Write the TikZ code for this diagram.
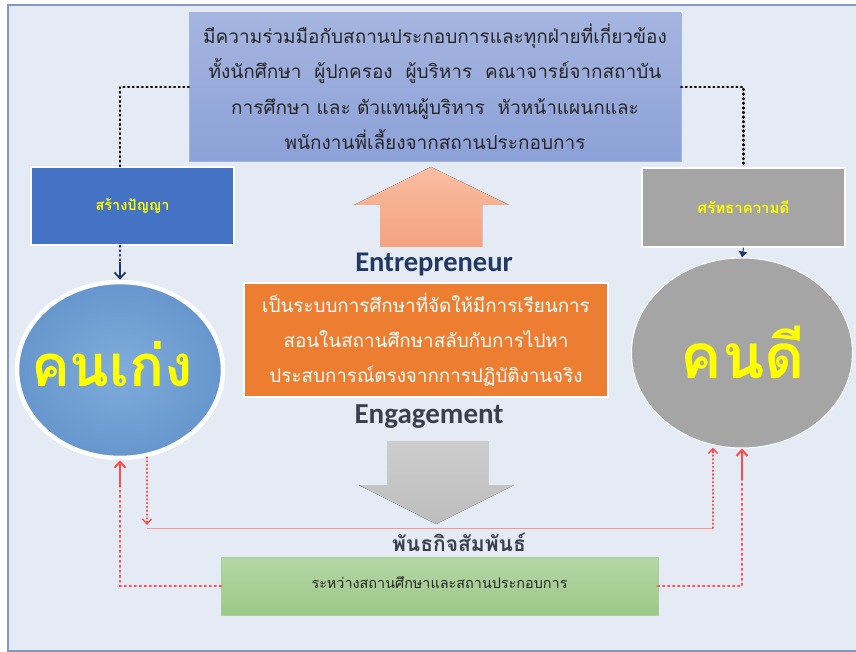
\documentclass[tikz,border=0pt]{standalone}
\usepackage{fontspec}
\setmainfont{Carlito}
\newfontfamily\thai[Script=Thai]{Loma}
\usetikzlibrary{arrows.meta,shapes.geometric,calc}
\definecolor{bgc}{HTML}{E5EBF5}
\definecolor{framec}{HTML}{8597C2}
\definecolor{topA}{HTML}{A6B5E0}
\definecolor{topB}{HTML}{8CA1D8}
\definecolor{blueb}{HTML}{4472C4}
\definecolor{grayb}{HTML}{A5A5A5}
\definecolor{orangeb}{HTML}{ED7D31}
\definecolor{greenA}{HTML}{B5D6A6}
\definecolor{greenB}{HTML}{9CC887}
\definecolor{navy}{HTML}{1F3864}
\definecolor{darkt}{HTML}{262626}
\definecolor{engt}{HTML}{3A3F4E}
\definecolor{yel}{HTML}{FFFF00}
\definecolor{redl}{HTML}{FF4B4B}
\definecolor{salA}{HTML}{F8BDA2}
\definecolor{salB}{HTML}{F4A27F}
\definecolor{grA}{HTML}{CDCDCD}
\definecolor{grB}{HTML}{BDBDBD}
\definecolor{circA}{HTML}{80ACDC}
\definecolor{circB}{HTML}{6696CC}
\tikzset{
  boxbase/.style={rectangle, inner sep=0pt, align=center},
  topbox/.style={boxbase, draw=topB!80!white, top color=topA, bottom color=topB, text=darkt},
  sidebox/.style={boxbase, draw=white, line width=1.5pt, text=yel},
  orbox/.style={boxbase, draw=white, line width=1.5pt, fill=orangeb, text=white},
  grbox/.style={boxbase, draw=greenB!90!white, top color=greenA, bottom color=greenB, text=darkt},
  bigtxt/.style={inner sep=0pt, text=yel},
  blackdot/.style={draw=black, line width=2.4pt, dash pattern=on 0.9pt off 3.7pt, line cap=round},
  reddot/.style={draw=redl, line width=2.6pt, dash pattern=on 1pt off 4pt, line cap=round},
  thinreddot/.style={draw=redl, line width=2pt, dash pattern=on 0.6pt off 3.2pt, line cap=round},
  redtip/.style={-{Straight Barb[length=6pt,width=11pt,line width=2pt]}},
}
\begin{document}
\begin{tikzpicture}[x=1pt,y=-1pt]
\useasboundingbox (0,0) rectangle (856,652);
\clip (0,0) rectangle (856,652);
\fill[white] (0,0) rectangle (856,652);
\draw[fill=bgc, draw=framec, line width=1.5pt] (8,5) rectangle (880,651);

% top box
\node[topbox, minimum width=492pt, minimum height=148pt,
      font=\thai\fontsize{19}{35.5}\selectfont] (top) at (435,87)
  {มีความร่วมมือกับสถานประกอบการและทุกฝ่ายที่เกี่ยวข้อง\\
   ทั้งนักศึกษา\ \ ผู้ปกครอง\ \ ผู้บริหาร\ \ คณาจารย์จากสถาบัน\\
   การศึกษา และ ตัวแทนผู้บริหาร\ \ หัวหน้าแผนกและ\\
   พนักงานพี่เลี้ยงจากสถานประกอบการ};

% side boxes
\node[sidebox, fill=blueb, minimum width=203pt, minimum height=78pt,
      font=\thai\bfseries\fontsize{14.5}{16}\selectfont] (lb) at (132.5,206) {สร้างปัญญา};
\node[sidebox, fill=grayb, minimum width=203pt, minimum height=79pt,
      font=\thai\bfseries\fontsize{15}{16}\selectfont] (rb) at (743.5,207.5) {ศรัทธาความดี};

% circles
\node[ellipse, draw=white, line width=4.5pt, minimum width=206pt, minimum height=176pt,
      inner color=circA, outer color=circB] (lc) at (120,370) {};
\node[bigtxt, font=\thai\bfseries\fontsize{58}{62}\selectfont] (lct) at (112,364) {คนเก่ง};
\node[ellipse, draw=white, line width=1pt, fill=grayb, minimum width=221pt, minimum height=190pt] (rc) at (742,353) {};
\node[bigtxt, font=\thai\bfseries\fontsize{62}{66}\selectfont] (rct) at (743,352) {คนดี};

% orange up arrow
\fill[top color=salA, bottom color=salB] (380,247) -- (380,205) -- (354,205) -- (431,167) -- (509,205) -- (482,205) -- (482,247) -- cycle;
\node[inner sep=0pt, text=navy, font=\bfseries\fontsize{28.5}{30}\selectfont] (ent) at (434,264) {Entrepreneur};

% orange box
\node[orbox, minimum width=364pt, minimum height=114pt,
      font=\thai\fontsize{18.8}{35}\selectfont] (ob) at (426,340)
  {เป็นระบบการศึกษาที่จัดให้มีการเรียนการ\\
   สอนในสถานศึกษาสลับกับการไปหา\\
   ประสบการณ์ตรงจากการปฏิบัติงานจริง};

\node[inner sep=0pt, text=engt, font=\bfseries\fontsize{29}{30}\selectfont] (eng) at (429,417) {Engagement};

% gray down arrow
\fill[top color=grA, bottom color=grB] (387,441) -- (488,441) -- (488,485) -- (514,485) -- (436,524) -- (359,485) -- (387,485) -- cycle;

\node[inner sep=0pt, text=engt, font=\thai\bfseries\fontsize{21}{24}\selectfont] (pt) at (459,542) {พันธกิจสัมพันธ์};

% green box
\node[grbox, minimum width=437pt, minimum height=58pt] (gb) at (439.5,586)
  {\raisebox{7pt}{\thai\fontsize{14.4}{16}\selectfont ระหว่างสถานศึกษาและสถานประกอบการ}};

% black dotted connectors
\draw[blackdot] (top.west) -| (lb.north -| lc.center);
\draw[blackdot] (top.east) -| (rb.north);
\draw[blackdot, draw=navy] (lb.south -| lc.center) -- ++(0,16);
\draw[navy, line width=1.8pt, -{Straight Barb[length=6pt,width=11pt,line width=1.8pt]}] ($(lb.south -| lc.center)+(0,16)$) -- (lc.north);
\draw[navy, line width=1pt, -{Triangle[length=6pt,width=8pt]}] (rb.south) -- (rc.north);

% red thick dotted connectors
\coordinate (lcb) at ($(lc.south)+(0,26)$);
\draw[reddot] (gb.west) -| (lcb);
\draw[redl, line width=2.2pt, redtip] (lcb) -- (lc.south);
\coordinate (rcb) at ($(rc.south)+(0,30)$);
\draw[reddot] (gb.east) -| (rcb);
\draw[redl, line width=2.2pt, redtip] (rcb) -- (rc.south);

% thin red path
\coordinate (tl) at (147,528);
\coordinate (tr) at (713,528);
\draw[thinreddot] ($(lc.south)+(27,-3)$) -- ($(tl)+(0,-6)$);
\draw[redl, line width=1.4pt, -{Straight Barb[length=5pt,width=9pt,line width=1.4pt]}] ($(tl)+(0,-7)$) -- ($(tl)+(0,-3)$);
\draw[redl!60!white, line width=0.6pt] (tl) -- (tr);
\draw[thinreddot] (tr) -- ($(rc.south)+(-29,2)$);
\draw[redl, line width=1.4pt, -{Straight Barb[length=5pt,width=9pt,line width=1.4pt]}] ($(rc.south)+(-29,4)$) -- ($(rc.south)+(-29,-1)$);
\end{tikzpicture}
\end{document}
